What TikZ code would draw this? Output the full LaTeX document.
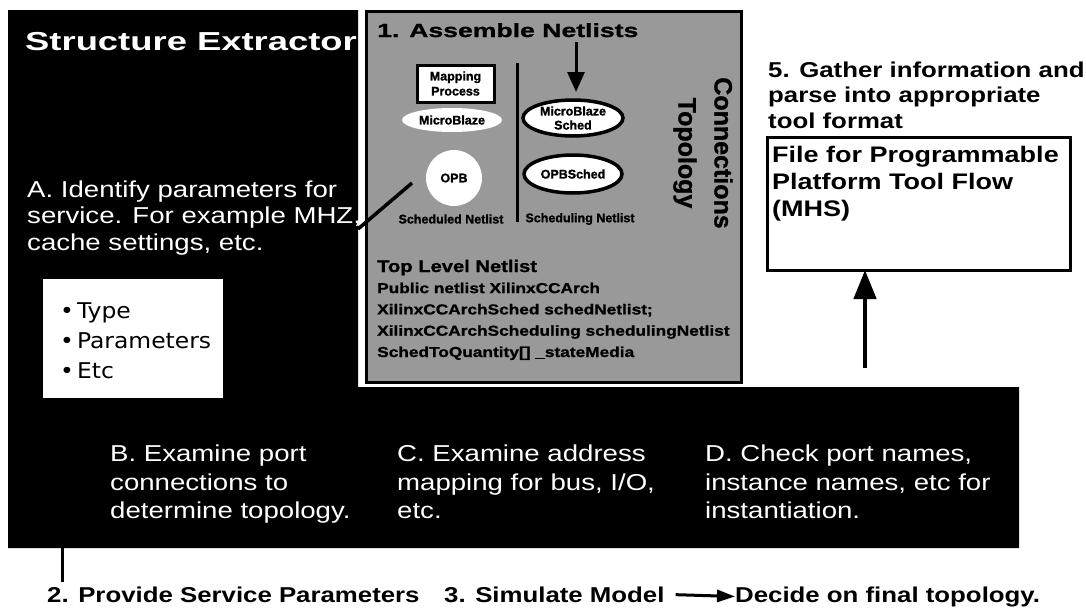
\documentclass[tikz,border=0pt]{standalone}
\usepackage{fontspec}
\setmainfont{Liberation Sans}[FakeStretch=1.2]
\newfontfamily\widefont{Liberation Sans}[FakeStretch=1.4]
\newfontfamily\plainfont{Liberation Sans}
\newfontfamily\netfont{Liberation Sans}[FakeStretch=1.2, FakeBold=1.2]
\newfontfamily\netwidefont{Liberation Sans}[FakeStretch=1.4, FakeBold=1.2]
\newfontfamily\tagfont{Liberation Sans}[FakeBold=1.2]
\newfontfamily\bulletfont{DejaVu Sans}[FakeStretch=1.08]
\usetikzlibrary{arrows.meta,shapes.geometric}

\newlength{\du}
\setlength{\du}{10\unitlength}

\tikzset{
  txt/.style={inner sep=0pt, anchor=base west, align=left},
  wtxt/.style={txt, text=white, font=\fontsize{23}{28.5}\selectfont},
  panel/.style={rectangle, anchor=north west, inner sep=0pt, outer sep=0pt, fill=white, draw=black, line width=3pt},
  tag/.style={inner sep=0pt, outer sep=0pt, align=center, font=\tagfont\bfseries\fontsize{12.5}{15}\selectfont},
  bubble/.style={tag, ellipse, fill=white},
  ringed/.style={bubble, draw=black, line width=3.5pt},
  bigarrow/.style={line width=4.5pt, -{Triangle[length=29pt,width=22pt]}},
  thinarrow/.style={line width=3pt, -{Triangle[length=20pt,width=17pt]}},
  flatarrow/.style={line width=3pt, -{Triangle[length=18pt,width=12pt]}},
  rule/.style={line width=3pt},
}

\begin{document}
\begin{tikzpicture}
\pgftransformxscale{1.000000}
\pgftransformyscale{-1.000000}
\useasboundingbox (0\du,0\du) rectangle (108.6\du,60.8\du);
% black backdrop: extractor column and lower band
\definecolor{dialinecolor}{rgb}{0.000000, 0.000000, 0.000000}
\pgfsetfillcolor{dialinecolor}
\pgfpathmoveto{\pgfpoint{0.800000\du}{1.000000\du}}
\pgfpathlineto{\pgfpoint{35.800000\du}{1.000000\du}}
\pgfpathlineto{\pgfpoint{35.800000\du}{38.700000\du}}
\pgfpathlineto{\pgfpoint{101.900000\du}{38.700000\du}}
\pgfpathlineto{\pgfpoint{101.900000\du}{54.800000\du}}
\pgfpathlineto{\pgfpoint{0.800000\du}{54.800000\du}}
\pgfpathclose
\pgfusepath{fill}
% structure extractor column (multi-line texts sit on their last baseline)
\node[txt, text=white, font=\widefont\bfseries\fontsize{26}{30}\selectfont] (extractor) at (2.500000\du,5.000000\du){Structure Extractor};
\node[wtxt, font=\fontsize{23}{26.5}\selectfont] (identify) at (2.700000\du,25.000000\du){A. Identify parameters for\\service. For example MHZ,\\cache settings, etc.};
\node[panel, draw=none, minimum width=180pt, minimum height=119pt] (kinds) at (4.300000\du,27.900000\du){};
\node[txt, font=\bulletfont\fontsize{21.7}{30}\selectfont] (kindlist) at (6.000000\du,37.800000\du){•\hspace{3pt}Type\\•\hspace{3pt}Parameters\\•\hspace{3pt}Etc};
% netlist panel
\definecolor{netgray}{rgb}{0.600000, 0.600000, 0.600000}
\node[panel, fill=netgray, minimum width=375pt, minimum height=371pt] (netbox) at (36.600000\du,1.100000\du){};
\node[txt, font=\netwidefont\bfseries\fontsize{19}{22}\selectfont] (assemble) at (37.700000\du,3.700000\du){1. Assemble Netlists};
\node[panel, tag, anchor=center, draw=black, line width=3pt, minimum width=77pt, minimum height=37pt] (mapping) at (45.550000\du,8.350000\du){Mapping\\Process};
\node[bubble, minimum width=100pt, minimum height=24pt] (mb) at (45.200000\du,12.000000\du){MicroBlaze};
\node[tag, circle, fill=white, minimum size=56pt] (opb) at (45.400000\du,17.800000\du){OPB};
\node[ringed, minimum width=100pt, minimum height=36pt, font=\tagfont\bfseries\fontsize{12.5}{14}\selectfont] (mbsched) at (57.300000\du,11.800000\du){MicroBlaze\\Sched};
\node[ringed, minimum width=98pt, minimum height=38pt] (opbsched) at (57.300000\du,17.400000\du){OPBSched};
\node[tag] (schedlbl) at (45.100000\du,21.900000\du){Scheduled Netlist};
\node[tag] (schedinglbl) at (58.000000\du,21.900000\du){Scheduling Netlist};
\node[tag, rotate=-90, font=\tagfont\bfseries\fontsize{25}{36}\selectfont] (topo) at (70.300000\du,15.300000\du){Connections\\Topology};
\coordinate (divtop) at (51.700000\du,6.300000\du);
\coordinate (divfoot) at (51.700000\du,22.200000\du);
\draw[rule] (divtop) -- (divfoot);
\coordinate (assemblefoot) at (57.600000\du,4.200000\du);
\draw[thinarrow, shorten >=8pt] (assemblefoot) -- (assemblefoot |- mbsched.north);
\node[txt, font=\netfont\bfseries\fontsize{16.8}{20}\selectfont] (toplevel) at (37.700000\du,27.200000\du){Top Level Netlist};
\node[txt, font=\netfont\bfseries\fontsize{14.4}{21.3}\selectfont] (netcode) at (37.700000\du,35.700000\du){Public netlist XilinxCCArch\\XilinxCCArchSched schedNetlist;\\XilinxCCArchScheduling schedulingNetlist\\SchedToQuantity[] \_stateMedia};
% pointer from the parameters text
\coordinate (mhzend) at (35.800000\du,22.900000\du);
\coordinate (opbpoint) at (41.200000\du,18.300000\du);
\draw[line width=3.5pt] (mhzend) -- (opbpoint);
% lower band
\node[wtxt] (ports) at (11.000000\du,51.870000\du){B. Examine port\\connections to\\determine topology.};
\node[wtxt] (address) at (39.700000\du,51.870000\du){C. Examine address\\mapping for bus, I/O,\\etc.};
\node[wtxt] (names) at (70.500000\du,51.870000\du){D. Check port names,\\instance names, etc for\\instantiation.};
% tool format
\node[txt, font=\bfseries\fontsize{21.5}{25.5}\selectfont] (gather) at (76.800000\du,12.800000\du){5. Gather information and\\parse into appropriate\\tool format};
\node[panel, minimum width=303pt, minimum height=133pt] (mhs) at (76.700000\du,13.700000\du){};
\node[txt, font=\bfseries\fontsize{22.5}{27}\selectfont] (mhstext) at (77.200000\du,21.600000\du){File for Programmable\\Platform Tool Flow\\(MHS)};
\coordinate (mhsfoot) at (86.500000\du,36.800000\du);
\draw[bigarrow] (mhsfoot) -- (mhsfoot |- mhs.south);
% steps under the band
\node[txt, font=\bfseries\fontsize{21.5}{24}\selectfont] (provide) at (4.700000\du,60.200000\du){2. Provide Service Parameters};
\node[txt, font=\bfseries\fontsize{21.5}{24}\selectfont] (simulate) at (44.400000\du,60.200000\du){3. Simulate Model};
\node[txt, font=\bfseries\fontsize{21.5}{24}\selectfont] (decide) at (73.500000\du,60.200000\du){Decide on final topology.};
\draw[flatarrow, shorten <=11pt] (simulate.east) -- (decide.west);
\coordinate (bandfoot) at (6.200000\du,54.800000\du);
\draw[rule, shorten >=4pt] (bandfoot) -- (bandfoot |- provide.north);
\end{tikzpicture}
\end{document}
